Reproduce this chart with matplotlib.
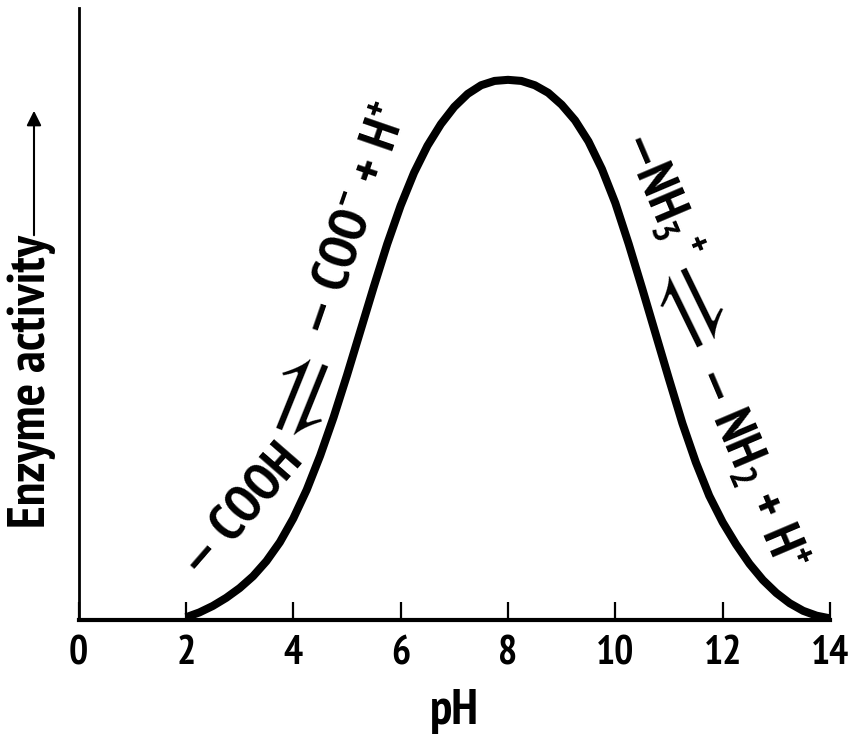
import matplotlib
matplotlib.use('Agg')
import matplotlib.pyplot as plt
from matplotlib import font_manager as fm

# curve (pH vs relative enzyme activity, %)
ph = [2.0, 2.25, 2.5, 2.75, 3.0, 3.25, 3.5, 3.75, 4.0, 4.25, 4.5, 4.75,
      5.0, 5.25, 5.5, 5.75, 6.0, 6.25, 6.5, 6.75, 7.0, 7.25, 7.5, 7.75,
      8.0, 8.25, 8.5, 8.75, 9.0, 9.25, 9.5, 9.75, 10.0, 10.25, 10.5, 10.75,
      11.0, 11.25, 11.5, 11.75, 12.0, 12.25, 12.5, 12.75, 13.0, 13.25, 13.5,
      13.75, 14.0]
activity = [0.5, 1.4, 2.6, 4.1, 5.9, 8.1, 10.9, 14.4, 18.8, 24.1, 30.4, 37.5,
            45.3, 53.5, 61.7, 69.6, 76.7, 82.8, 87.8, 91.8, 95.0, 97.4, 99.0, 99.8,
            100.0, 99.8, 99.0, 97.6, 95.4, 92.5, 88.6, 83.5, 77.2, 69.6, 61.4, 53.0,
            44.6, 36.4, 29.2, 23.0, 18.1, 14.0, 10.4, 7.4, 5.0, 3.1, 1.7,
            0.8, 0.3]
xticks = [0, 2, 4, 6, 8, 10, 12, 14]

# condensed bold face close to the original; fall back to DejaVu Sans
have = {f.name for f in fm.fontManager.ttflist}
narrow = next((n for n in ['PT Sans Narrow', 'Open Sans Condensed', 'Roboto Condensed',
                           'Barlow Condensed', 'Liberation Sans Narrow'] if n in have), 'DejaVu Sans')
plt.rcParams['font.family'] = [narrow, 'DejaVu Sans']
plt.rcParams['mathtext.fontset'] = 'custom'
plt.rcParams['mathtext.rm'] = narrow + ':bold'
plt.rcParams['mathtext.it'] = narrow + ':bold'
plt.rcParams['mathtext.bf'] = narrow + ':bold'

W, H = 856, 743
fig = plt.figure(figsize=(W / 100, H / 100), dpi=100)
ax = fig.add_axes([78.6 / W, 123 / H, (830 - 78.6) / W, (620 - 8) / H])

ax.plot(ph, activity, color='black', lw=5.8, solid_capstyle='butt', solid_joinstyle='round')

ax.set_xlim(0, 14)
ax.set_ylim(0, 113.3)
for s in ['top', 'right']:
    ax.spines[s].set_visible(False)
ax.spines['left'].set_linewidth(2.0)
ax.spines['bottom'].set_linewidth(3.0)
ax.set_yticks([])
ax.set_xticks(xticks)
ax.set_xticklabels([str(t) for t in xticks], fontsize=29, fontweight='bold')
ax.tick_params(axis='x', direction='in', length=13, width=1.6, pad=11)
ax.set_xlabel('pH', fontsize=36, fontweight='bold', labelpad=12)

# y label with arrow
fig.text(32 / W, 1 - 528 / H, 'Enzyme activity', rotation=90, ha='center', va='bottom',
         fontsize=38, fontweight='bold')
ax.annotate('', xy=(34 / W, 1 - 108 / H), xytext=(34 / W, 1 - 238 / H),
            xycoords='figure fraction', textcoords='figure fraction',
            arrowprops=dict(arrowstyle='-|>', lw=1.5, color='black', mutation_scale=22))

# labels along the curve
kw = dict(ha='center', va='center', rotation_mode='anchor', fontsize=38)
eq = dict(ha='center', va='center', rotation_mode='anchor', fontsize=70,
          family=['STIXGeneral', 'DejaVu Sans'], fontweight='normal')
ax.text(3.05, 20.0, r'$\mathrm{—\ COOH}$', rotation=49, **kw)
ax.text(4.13, 42.2, '\u21cc', rotation=68, **eq)
ax.text(5.17, 74.0, r'$\mathrm{—\ COO^{-}\,+\,H^{+}}$', rotation=71, **kw)
ax.text(10.84, 78.7, r'$\mathrm{—NH_{3}\,^{+}}$', rotation=-67, **kw)
ax.text(11.30, 56.9, '\u21cc', rotation=-64, **eq)
ax.text(12.50, 28.0, r'$\mathrm{—\ NH_{2}\,+\,H^{+}}$', rotation=-67, **kw)

fig.savefig('out.png', dpi=100)
